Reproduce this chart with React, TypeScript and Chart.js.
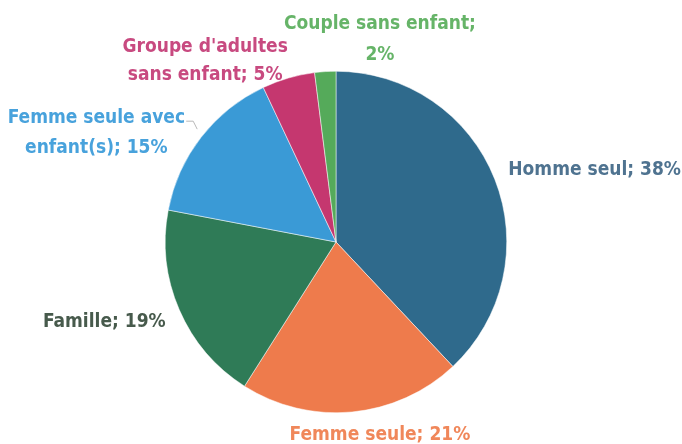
import React, { useEffect, useRef } from "react";
import { Chart, registerables } from "chart.js";

Chart.register(...registerables);

const categories = [
  "Homme seul",
  "Femme seule",
  "Famille",
  "Femme seule avec enfant(s)",
  "Groupe d'adultes sans enfant",
  "Couple sans enfant",
];
const values = [38, 21, 19, 15, 5, 2];
const labelLines = [
  ["Homme seul; 38%"],
  ["Femme seule; 21%"],
  ["Famille; 19%"],
  ["Femme seule avec", "enfant(s); 15%"],
  ["Groupe d'adultes", "sans enfant; 5%"],
  ["Couple sans enfant;", "2%"],
];

const sliceColors = ["#2F6A8C", "#EE7B4C", "#2F7B57", "#3A9AD6", "#C5376F", "#55AA5A"];
const labelColors = ["#4F7390", "#F0875A", "#475A4C", "#48A2DC", "#C84A80", "#66B468"];
// label centre offsets from pie centre, in units of radius/171
const labelOffsets = [
  [259, -72],
  [44, 193],
  [-232, 80],
  [-240, -109],
  [-131, -181],
  [44, -203],
];
const lineHeights = [0, 0, 0, 30, 28, 31];

const FONT = "bold 19px 'Liberation Sans Narrow', 'DejaVu Sans Condensed', sans-serif";

const labelPlugin = {
  id: "pieLabels",
  afterDatasetsDraw(chart: any) {
    const ctx = chart.ctx;
    const meta = chart.getDatasetMeta(0);
    const arc0 = meta.data[0];
    if (!arc0) return;
    const cx = arc0.x;
    const cy = arc0.y;
    const s = arc0.outerRadius / 171;
    ctx.save();
    ctx.font = FONT;
    ctx.textAlign = "center";
    ctx.textBaseline = "middle";
    // small leader line for "Femme seule avec enfant(s)"
    ctx.strokeStyle = "#B8B8B8";
    ctx.lineWidth = 1;
    ctx.beginPath();
    ctx.moveTo(cx - 150 * s, cy - 121 * s);
    ctx.lineTo(cx - 143 * s, cy - 121 * s);
    ctx.lineTo(cx - 139 * s, cy - 113 * s);
    ctx.stroke();
    meta.data.forEach((_arc: any, i: number) => {
      const lines = labelLines[i];
      const [ox, oy] = labelOffsets[i];
      const lh = lineHeights[i] * s;
      const startY = cy + oy * s - ((lines.length - 1) * lh) / 2;
      ctx.fillStyle = labelColors[i];
      lines.forEach((t, k) => {
        ctx.fillText(t, cx + ox * s, startY + k * lh);
      });
    });
    ctx.restore();
  },
};

export default function App() {
  const ref = useRef<HTMLCanvasElement | null>(null);
  useEffect(() => {
    if (!ref.current) return;
    const chart = new Chart(ref.current, {
      type: "pie",
      data: {
        labels: categories,
        datasets: [
          {
            data: values,
            backgroundColor: sliceColors,
            borderColor: "#ffffff",
            borderWidth: 0.5,
          },
        ],
      },
      options: {
        animation: false,
        responsive: true,
        maintainAspectRatio: false,
        layout: { padding: { left: 0, right: 10, top: 71, bottom: 31 } },
        plugins: {
          legend: { display: false },
          tooltip: { enabled: false },
          title: { display: false },
        },
      },
      plugins: [labelPlugin],
    });
    return () => chart.destroy();
  }, []);
  return (
    <div style={{ position: "absolute", left: 0, top: 0, width: 682, height: 444, background: "#ffffff" }}>
      <canvas ref={ref} />
    </div>
  );
}
